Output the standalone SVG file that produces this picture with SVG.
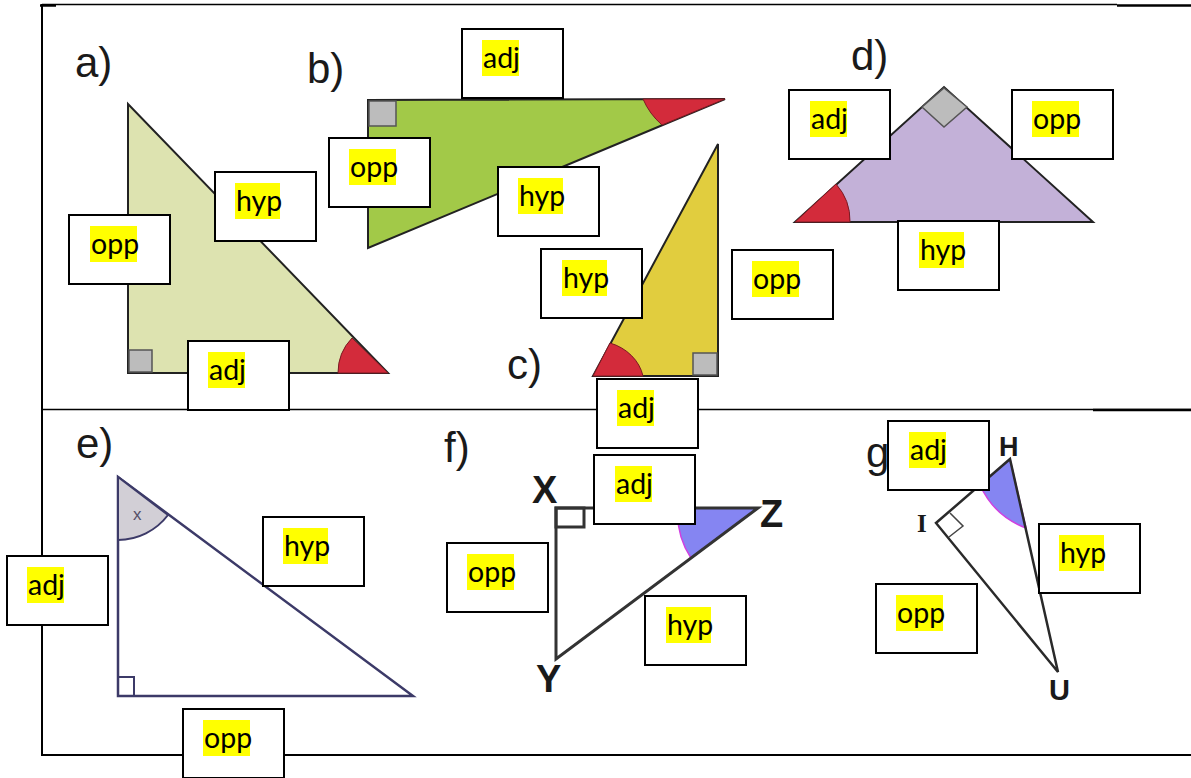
<svg xmlns="http://www.w3.org/2000/svg" width="1191" height="778" viewBox="0 0 1191 778">
<style>
.frm{stroke:#000;fill:none}
.tri{stroke:#222;stroke-width:2;stroke-linejoin:miter}
.sq{fill:#bcbcbc;stroke:#555;stroke-width:1.5}
.red{fill:#d32b3b;stroke:#7a1a22;stroke-width:1}
.part{font-family:"Liberation Sans",Arial,sans-serif;font-size:42px;fill:#1a1a1a}
.vx{font-family:"Liberation Sans",Arial,sans-serif;font-weight:bold;fill:#1a1a1a}
.box{fill:#fff;stroke:#000;stroke-width:2}
.hl{fill:#ffff00}
.lbl{font-family:Lato,"Open Sans",sans-serif;font-size:28.5px;fill:#000}
.blue{fill:#8585f2;stroke:#d040e0;stroke-width:1.5}
</style>
<rect width="1191" height="778" fill="#fff"/>
<g id="frame">
<line class="frm" x1="42" y1="4.5" x2="1117" y2="4.5" stroke-width="1.5"/>
<line class="frm" x1="1117" y1="5.5" x2="1191" y2="5.5" stroke-width="2.5"/>
<line class="frm" x1="40" y1="5.5" x2="56" y2="5.5" stroke-width="2.5"/>
<line class="frm" x1="42" y1="4" x2="42" y2="756" stroke-width="2"/>
<line class="frm" x1="42" y1="409.5" x2="1191" y2="409.5" stroke-width="1.5"/>
<line class="frm" x1="1093" y1="410" x2="1191" y2="410" stroke-width="2.5"/>
<line class="frm" x1="42" y1="755" x2="1191" y2="755" stroke-width="2"/>
</g>
<g id="connectors"></g>
<g id="tri-a">
<polygon class="tri" points="128,104 128,373 388,373" fill="#dde3b0"/>
<rect class="sq" x="129" y="350" width="23" height="22"/>
<path class="red" d="M388,373 L338,373 A50,50 0 0 1 352,338 Z"/>
<text class="part" x="75" y="77">a)</text>
</g>
<g id="tri-b">
<polygon class="tri" points="368,100 725,99 368,248" fill="#a2c948"/>
<rect class="sq" x="369" y="101" width="27" height="25"/>
<path class="red" d="M725,99 L643,99 A80,72 0 0 0 662,125 Z"/>
<text class="part" x="307" y="83">b)</text>
</g>
<g id="tri-c">
<polygon class="tri" points="718,144 718,376 593,376" fill="#e1cd3e"/>
<rect class="sq" x="693" y="353" width="24" height="22"/>
<path class="red" d="M593,376 L643,376 A50,44 0 0 0 610,343 Z"/>
<text class="part" x="507" y="379">c)</text>
</g>
<g id="tri-d">
<polygon class="tri" points="795,222 944,87 1093,222" fill="#c3b1d8"/>
<polygon class="sq" points="944,88 967,107 944,127 922,107"/>
<path class="red" d="M795,222 L850,222 A55,55 0 0 0 836,184 Z"/>
<text class="part" x="851" y="70">d)</text>
</g>
<g id="tri-e">
<polygon points="118,477 118,696 413,696" fill="#fff" stroke="#3c3a68" stroke-width="2.5" stroke-linejoin="miter"/>
<path d="M118,477 L118,540 A63,63 0 0 0 168,515 Z" fill="#d2cfd6" stroke="#3c3a68" stroke-width="2"/>
<text x="133" y="520" font-family="'Liberation Sans',Arial,sans-serif" font-size="17" fill="#555068">x</text>
<rect x="118" y="677" width="16" height="19" fill="none" stroke="#3c3a68" stroke-width="2"/>
<text class="part" x="76" y="458">e)</text>
</g>
<g id="tri-f">
<path class="blue" d="M758,508 L678,508 A80,80 0 0 0 691,558 Z"/>
<polygon points="556,508 758,508 556,659" fill="none" stroke="#333" stroke-width="3" stroke-linejoin="miter"/>
<rect x="556" y="508" width="28" height="19" fill="none" stroke="#333" stroke-width="3"/>
<text class="vx" x="532" y="503" font-size="38">X</text>
<text class="vx" x="760" y="527" font-size="38">Z</text>
<text class="vx" x="536" y="692" font-size="38">Y</text>
<text class="part" x="444" y="462">f)</text>
</g>
<g id="tri-g">
<path class="blue" d="M1010,459 L980,485 Q994,516 1026,528 Z"/>
<polygon points="1010,459 936,523 1058,672" fill="none" stroke="#2a2a2a" stroke-width="2.5" stroke-linejoin="miter"/>
<polyline points="950,513 963,526 949,537" fill="none" stroke="#444" stroke-width="1.5"/>
<text class="vx" x="999" y="456" font-size="27">H</text>
<text x="917" y="532" font-family="'Liberation Serif',serif" font-weight="bold" font-size="25" fill="#1a1a1a">I</text>
<text class="vx" x="1049" y="700" font-size="29">U</text>
<text class="part" x="866" y="467">g)</text>
</g>
<g id="box-a-opp"><rect class="box" x="69" y="215" width="101" height="69"/><rect class="hl" x="90" y="226" width="47" height="36"/><text class="lbl" x="91" y="254">opp</text></g>
<g id="box-a-hyp"><rect class="box" x="215" y="172" width="101" height="69"/><rect class="hl" x="235" y="183" width="45" height="36"/><text class="lbl" x="236" y="211">hyp</text></g>
<g id="box-a-adj"><rect class="box" x="188" y="341" width="101" height="69"/><rect class="hl" x="208" y="352" width="37" height="36"/><text class="lbl" x="209" y="380">adj</text></g>
<g id="box-b-adj"><rect class="box" x="462" y="29" width="101" height="69"/><rect class="hl" x="482" y="40" width="37" height="36"/><text class="lbl" x="483" y="68">adj</text></g>
<g id="box-b-opp"><rect class="box" x="329" y="138" width="101" height="69"/><rect class="hl" x="349" y="149" width="47" height="36"/><text class="lbl" x="350" y="177">opp</text></g>
<g id="box-b-hyp"><rect class="box" x="498" y="167" width="101" height="69"/><rect class="hl" x="518" y="178" width="45" height="36"/><text class="lbl" x="519" y="206">hyp</text></g>
<g id="box-c-hyp"><rect class="box" x="541" y="249" width="101" height="69"/><rect class="hl" x="562" y="260" width="45" height="36"/><text class="lbl" x="563" y="288">hyp</text></g>
<g id="box-c-opp"><rect class="box" x="732" y="250" width="101" height="69"/><rect class="hl" x="752" y="261" width="47" height="36"/><text class="lbl" x="753" y="289">opp</text></g>
<g id="box-c-adj"><rect class="box" x="597" y="379" width="101" height="69"/><rect class="hl" x="617" y="390" width="37" height="36"/><text class="lbl" x="618" y="418">adj</text></g>
<g id="box-d-adj"><rect class="box" x="789" y="90" width="101" height="69"/><rect class="hl" x="810" y="101" width="37" height="36"/><text class="lbl" x="811" y="129">adj</text></g>
<g id="box-d-opp"><rect class="box" x="1012" y="90" width="101" height="69"/><rect class="hl" x="1032" y="101" width="47" height="36"/><text class="lbl" x="1033" y="129">opp</text></g>
<g id="box-d-hyp"><rect class="box" x="898" y="221" width="101" height="69"/><rect class="hl" x="919" y="232" width="45" height="36"/><text class="lbl" x="920" y="260">hyp</text></g>
<g id="box-e-adj"><rect class="box" x="7" y="556" width="101" height="69"/><rect class="hl" x="27" y="567" width="37" height="36"/><text class="lbl" x="28" y="595">adj</text></g>
<g id="box-e-hyp"><rect class="box" x="263" y="517" width="101" height="69"/><rect class="hl" x="283" y="528" width="45" height="36"/><text class="lbl" x="284" y="556">hyp</text></g>
<g id="box-e-opp"><rect class="box" x="183" y="709" width="101" height="69"/><rect class="hl" x="203" y="720" width="47" height="36"/><text class="lbl" x="204" y="748">opp</text></g>
<g id="box-f-adj"><rect class="box" x="594" y="455" width="101" height="69"/><rect class="hl" x="615" y="466" width="37" height="36"/><text class="lbl" x="616" y="494">adj</text></g>
<g id="box-f-opp"><rect class="box" x="447" y="543" width="101" height="69"/><rect class="hl" x="467" y="554" width="47" height="36"/><text class="lbl" x="468" y="582">opp</text></g>
<g id="box-f-hyp"><rect class="box" x="645" y="596" width="101" height="69"/><rect class="hl" x="666" y="607" width="45" height="36"/><text class="lbl" x="667" y="635">hyp</text></g>
<g id="box-g-adj"><rect class="box" x="888" y="421" width="101" height="69"/><rect class="hl" x="909" y="432" width="37" height="36"/><text class="lbl" x="910" y="460">adj</text></g>
<g id="box-g-hyp"><rect class="box" x="1039" y="524" width="101" height="69"/><rect class="hl" x="1059" y="535" width="45" height="36"/><text class="lbl" x="1060" y="563">hyp</text></g>
<g id="box-g-opp"><rect class="box" x="876" y="584" width="101" height="69"/><rect class="hl" x="896" y="595" width="47" height="36"/><text class="lbl" x="897" y="623">opp</text></g>
</svg>
